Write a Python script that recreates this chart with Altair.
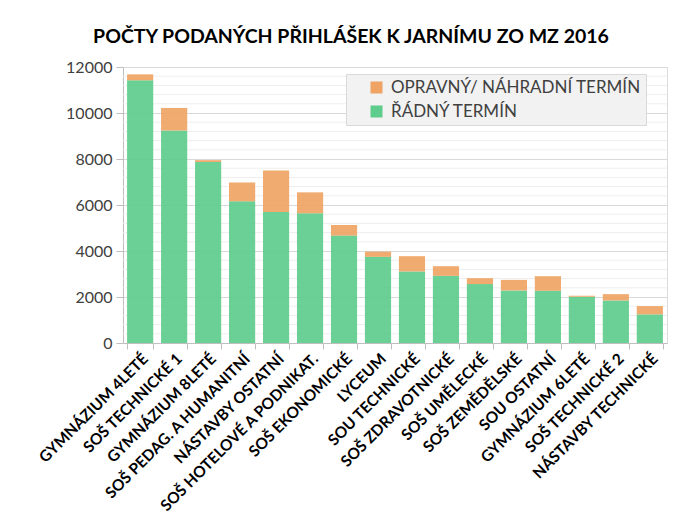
import altair as alt
import pandas as pd

categories = ["GYMNÁZIUM 4LETÉ", "SOŠ TECHNICKÉ 1", "GYMNÁZIUM 8LETÉ", "SOŠ PEDAG. A HUMANITNÍ",
              "NÁSTAVBY OSTATNÍ", "SOŠ HOTELOVÉ A PODNIKAT.", "SOŠ EKONOMICKÉ", "LYCEUM",
              "SOU TECHNICKÉ", "SOŠ ZDRAVOTNICKÉ", "SOŠ UMĚLECKÉ", "SOŠ ZEMĚDĚLSKÉ",
              "SOU OSTATNÍ", "GYMNÁZIUM 6LETÉ", "SOŠ TECHNICKÉ 2", "NÁSTAVBY TECHNICKÉ"]
radny = [11420, 9240, 7870, 6160, 5700, 5640, 4670, 3745, 3110, 2920, 2560, 2285, 2270, 2010, 1850, 1245]
opravny = [260, 980, 80, 820, 1800, 910, 460, 230, 665, 420, 260, 460, 635, 45, 275, 360]
series = ["OPRAVNÝ/ NÁHRADNÍ TERMÍN", "ŘÁDNÝ TERMÍN"]
colors = ["#EFA465", "#5ECC8C"]
minor_grid = [v for v in range(400, 12000, 400) if v % 2000 != 0]

rows = []
for c, r, o in zip(categories, radny, opravny):
    rows.append({"kat": c, "typ": series[1], "val": r, "ord": 0})
    rows.append({"kat": c, "typ": series[0], "val": o, "ord": 1})
df = pd.DataFrame(rows)
grid_df = pd.DataFrame({"g": minor_grid})

FONT = "Lato"

grid = alt.Chart(grid_df).mark_rule(color="#EEEEEE", strokeWidth=1).encode(
    y=alt.Y("g:Q", scale=alt.Scale(domain=[0, 12000]))
)

bars = alt.Chart(df).mark_bar(opacity=0.92).encode(
    x=alt.X("kat:N", sort=categories, title=None,
            scale=alt.Scale(paddingInner=0.23, paddingOuter=0.12),
            axis=alt.Axis(labelAngle=-45, labelFont=FONT, labelFontWeight="bold",
                          labelFontSize=15.5, labelColor="#000000", tickBand="extent",
                          domainColor="#BFBFBF", tickColor="#BFBFBF", tickSize=6,
                          labelPadding=2, labelLimit=300, labelOverlap=False)),
    y=alt.Y("val:Q", stack="zero", title=None,
            scale=alt.Scale(domain=[0, 12000], nice=False),
            axis=alt.Axis(values=list(range(0, 12001, 2000)), format="d", labelFont=FONT,
                          labelFontSize=16, labelColor="#404040", gridColor="#D9D9D9",
                          domainColor="#BFBFBF", tickColor="#BFBFBF", tickSize=7,
                          labelPadding=4)),
    color=alt.Color("typ:N", scale=alt.Scale(domain=series, range=colors),
                    legend=alt.Legend(title=None, orient="none", legendX=223, legendY=7,
                                      symbolType="square", symbolSize=144, symbolStrokeWidth=0,
                                      symbolOpacity=1, labelLimit=400,
                                      labelFont=FONT, labelFontSize=17, labelColor="#404040",
                                      fillColor="#F2F2F2", strokeColor="#D9D9D9",
                                      padding=5, symbolOffset=17, rowPadding=6,
                                      labelOffset=6)),
    order=alt.Order("ord:Q"),
)

chart = alt.layer(grid, bars).properties(
    width=544, height=276,
    autosize=alt.AutoSizeParams(type="none"),
    padding={"left": 115, "top": 59, "right": 3, "bottom": 177},
    title=alt.Title("POČTY PODANÝCH PŘIHLÁŠEK K JARNÍMU ZO MZ 2016", font=FONT,
                    fontSize=19.5, fontWeight="bold", color="#000000", dx=-44, offset=12),
).configure_view(stroke="#D9D9D9").configure(background="white")

chart.save("out.html", embed_options={"renderer": "svg", "actions": False})
